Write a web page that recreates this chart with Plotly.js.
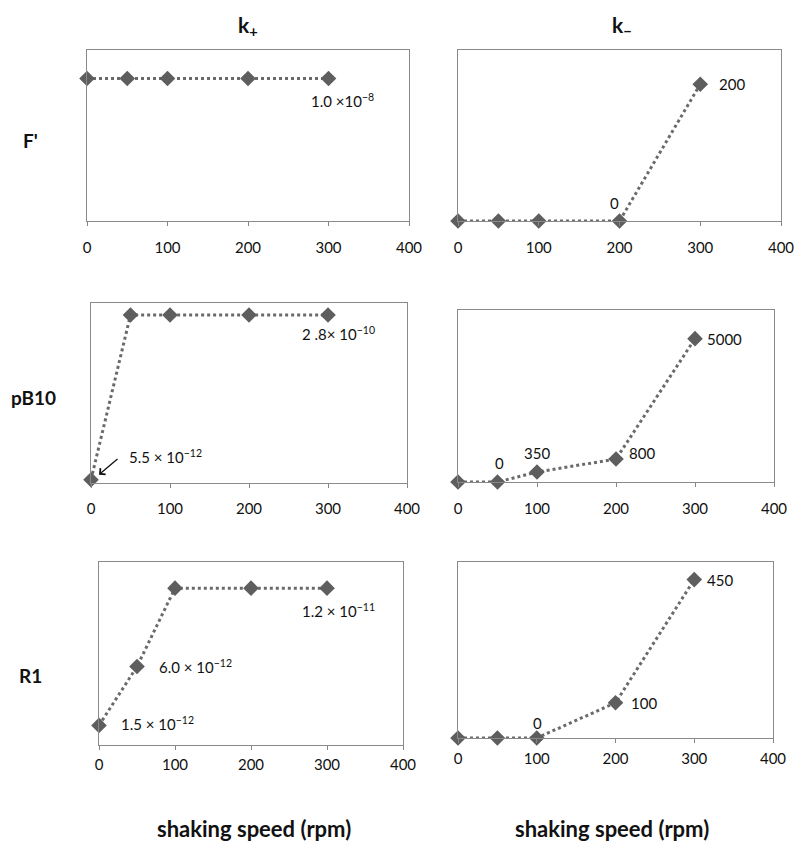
<!DOCTYPE html>
<html>
<head>
<meta charset="utf-8">
<script src="https://cdn.plot.ly/plotly-3.0.1.min.js"></script>
<style>
  html, body { margin: 0; padding: 0; background: #fff; }
  #chart { width: 800px; height: 844px; }
</style>
</head>
<body>
<div id="chart"></div>
<script>
// shaking speed (rpm)
var speeds = [0, 50, 100, 200, 300];
var xTicks = [0, 100, 200, 300, 400];

// rate constants
var fKplus   = [1.0e-8, 1.0e-8, 1.0e-8, 1.0e-8, 1.0e-8];
var fKminus  = [0, 0, 0, 0, 200];
var pbKplus  = [5.5e-12, 2.8e-10, 2.8e-10, 2.8e-10, 2.8e-10];
var pbKminus = [0, 0, 350, 800, 5000];
var r1Kplus  = [1.5e-12, 6.0e-12, 1.2e-11, 1.2e-11, 1.2e-11];
var r1Kminus = [0, 0, 0, 100, 450];

var rowLabels = ["F'", 'pB10', 'R1'];
var colLabels = ['k<sub>+</sub>', 'k<sub>\u2212</sub>'];
var xTitle = 'shaking speed (rpm)';

var FONT = 'Lato, "Open Sans", sans-serif';
var series = [fKplus, fKminus, pbKplus, pbKminus, r1Kplus, r1Kminus];

// one trace per panel
var data = series.map(function (vals, i) {
    var n = i === 0 ? '' : String(i + 1);
    return {
        x: speeds,
        y: vals,
        xaxis: 'x' + n,
        yaxis: 'y' + n,
        type: 'scatter',
        mode: 'lines+markers',
        cliponaxis: false,
        line: { color: '#6a6a6a', width: 3, dash: 'dot' },
        marker: { symbol: 'diamond', size: 12, color: '#5e5e5e' },
        showlegend: false,
        hoverinfo: 'x+y'
    };
});

// panel boxes in pixel space
var boxes = [
    { x: [87, 409], y: [50, 221], yr: [0, 1.2e-8], so: 9 },
    { x: [458, 781], y: [50, 221], yr: [0, 250], so: 9 },
    { x: [91, 407], y: [303, 483], yr: [0, 3.0e-10], so: 8 },
    { x: [458, 774], y: [310, 482], yr: [0, 6000], so: 9 },
    { x: [99, 403], y: [562, 745], yr: [0, 1.4e-11], so: 2 },
    { x: [458, 773], y: [562, 738], yr: [0, 500], so: 3 }
];

var layout = {
    width: 800,
    height: 844,
    margin: { l: 0, r: 0, t: 0, b: 0 },
    paper_bgcolor: '#fff',
    plot_bgcolor: '#fff',
    font: { family: FONT, size: 15, color: '#111' },
    annotations: []
};

boxes.forEach(function (b, i) {
    var n = i === 0 ? '' : String(i + 1);
    layout['xaxis' + n] = {
        domain: [b.x[0] / 800, b.x[1] / 800],
        anchor: 'y' + n,
        range: [0, 400],
        tickvals: xTicks,
        ticks: 'outside',
        ticklen: 4,
        tickcolor: '#868686',
        ticklabelstandoff: b.so,
        showgrid: false,
        zeroline: false,
        showline: true,
        mirror: true,
        linecolor: '#8a8a8a',
        linewidth: 1,
        tickfont: { family: FONT, size: 15, color: '#111' }
    };
    layout['yaxis' + n] = {
        domain: [1 - b.y[1] / 844, 1 - b.y[0] / 844],
        anchor: 'x' + n,
        range: b.yr,
        showticklabels: false,
        ticks: '',
        showgrid: false,
        zeroline: false,
        showline: true,
        mirror: true,
        linecolor: '#8a8a8a',
        linewidth: 1
    };
});

// point labels: [panel, x, y, text, xshift, yshift]
var pointLabels = [
    [0, 300, 1.0e-8, '1.0 \u00d710<sup>\u22128</sup>', 14, -22],
    [1, 300, 200, '200', 32, 0],
    [1, 200, 0, '0', -5, 18],
    [2, 300, 2.8e-10, '2 .8\u00d7 10<sup>\u221210</sup>', 10, -18],
    [2, 0, 5.5e-12, '5.5 \u00d7 10<sup>\u221212</sup>', 74, 23],
    [3, 300, 5000, '5000', 29, 0],
    [3, 200, 800, '800', 26, 6],
    [3, 100, 350, '350', 0, 19],
    [3, 50, 0, '0', 2, 19],
    [4, 300, 1.2e-11, '1.2 \u00d7 10<sup>\u221211</sup>', 11, -22],
    [4, 50, 6.0e-12, '6.0 \u00d7 10<sup>\u221212</sup>', 58, 0],
    [4, 0, 1.5e-12, '1.5 \u00d7 10<sup>\u221212</sup>', 58, 2],
    [5, 300, 450, '450', 26, 0],
    [5, 200, 100, '100', 28, 0],
    [5, 100, 0, '0', 1, 15]
];

pointLabels.forEach(function (p) {
    var n = p[0] === 0 ? '' : String(p[0] + 1);
    layout.annotations.push({
        xref: 'x' + n, yref: 'y' + n,
        x: p[1], y: p[2],
        xanchor: 'center', yanchor: 'middle',
        text: p[3],
        xshift: p[4], yshift: p[5],
        showarrow: false,
        font: { family: FONT, size: 15, color: '#111' }
    });
});

// the small arrow pointing at the first pB10 k+ point
layout.annotations.push({
    xref: 'x3', yref: 'y3',
    x: 0, y: 5.5e-12,
    xshift: 8, yshift: 5,
    text: '',
    showarrow: true,
    arrowhead: 4,
    arrowsize: 1.2,
    arrowwidth: 1.3,
    arrowcolor: '#111',
    ax: 20, ay: -17
});

// column titles
[248, 622].forEach(function (px, i) {
    layout.annotations.push({
        xref: 'paper', yref: 'paper',
        x: px / 800, y: 1 - 26 / 844,
        xanchor: 'center', yanchor: 'middle',
        text: '<b>' + colLabels[i] + '</b>',
        showarrow: false,
        font: { family: FONT, size: 21, color: '#111' }
    });
});

// row titles
[[30, 140], [33, 398], [30, 675]].forEach(function (p, i) {
    layout.annotations.push({
        xref: 'paper', yref: 'paper',
        x: p[0] / 800, y: 1 - p[1] / 844,
        xanchor: 'center', yanchor: 'middle',
        text: '<b>' + rowLabels[i] + '</b>',
        showarrow: false,
        font: { family: FONT, size: 19, color: '#111' }
    });
});

// x axis titles under each column
[254, 612].forEach(function (px) {
    layout.annotations.push({
        xref: 'paper', yref: 'paper',
        x: px / 800, y: 1 - 828 / 844,
        xanchor: 'center', yanchor: 'middle',
        text: '<b>' + xTitle + '</b>',
        showarrow: false,
        font: { family: FONT, size: 22, color: '#111' }
    });
});

Plotly.newPlot('chart', data, layout, { displayModeBar: false, staticPlot: true });
</script>
</body>
</html>
